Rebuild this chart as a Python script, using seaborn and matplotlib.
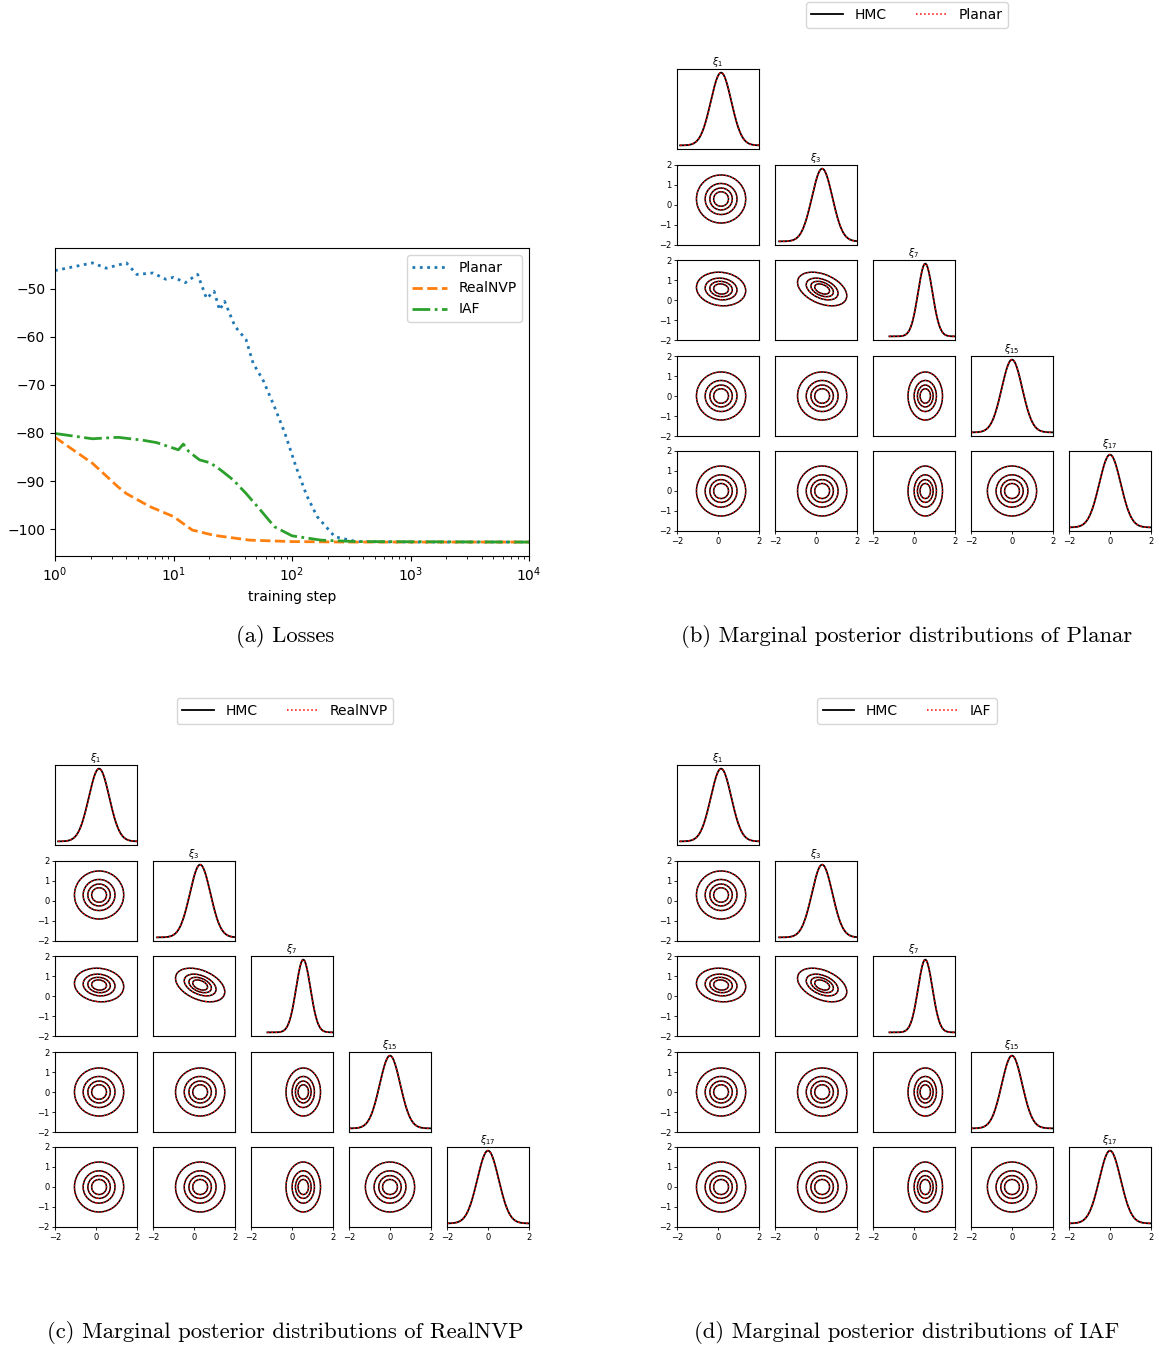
"""
Flow losses and corner plots of marginal posteriors (HMC vs flows).
"""
import numpy as np
import matplotlib
matplotlib.use("Agg")
import matplotlib.pyplot as plt
from matplotlib.lines import Line2D
import seaborn as sns

W, H = 1154, 1346

# ---- losses ----
planar_step = [1, 2.07, 2.7, 4, 4.9, 6.7, 8.6, 10, 12.6, 15, 16, 19, 22, 24.5, 27,
               33, 41, 47, 57, 71, 87, 108, 133, 163, 230, 350, 1000, 10000]
planar_loss = [-46.2, -44.6, -45.7, -44.6, -47.0, -46.7, -48.0, -47.6, -48.7, -47.4,
               -47.0, -52.0, -50.5, -54.4, -52.6, -57.8, -60.6, -65.5, -69.0, -74.5,
               -80.0, -87.0, -93.0, -97.4, -101.6, -102.6, -102.7, -102.7]

realnvp_step = [1, 2.07, 3.4, 4, 6.3, 10, 14.4, 22, 44, 100, 300, 10000]
realnvp_loss = [-80.9, -86.3, -91.2, -92.6, -95.3, -97.4, -100.2, -101.3, -102.3,
                -102.6, -102.7, -102.7]

iaf_step = [1, 2.07, 3.4, 5.5, 7.2, 11, 12.1, 13.5, 16.6, 20.4, 25, 32, 41, 54, 71,
            100, 176, 350, 10000]
iaf_loss = [-80.1, -81.2, -80.9, -81.5, -82.0, -83.5, -82.3, -83.9, -85.6, -86.2,
            -87.7, -89.8, -92.6, -96.0, -99.5, -101.4, -102.3, -102.6, -102.7]

# ---- marginal posterior summary ----
var_labels = [r'$\xi_1$', r'$\xi_3$', r'$\xi_7$', r'$\xi_{15}$', r'$\xi_{17}$']
var_mean = [0.15, 0.3, 0.55, 0.0, 0.0]
var_std = [0.5, 0.5, 0.35, 0.5, 0.52]
var_xmin = [-1.85, -1.8, -1.2, -1.97, -1.97]
var_corr = [[1.0],
            [0.0, 1.0],
            [-0.1, -0.4, 1.0],
            [0.0, 0.0, 0.0, 1.0],
            [0.0, 0.0, 0.0, 0.0, 1.0]]
contour_levels = [0.056, 0.30, 0.55, 0.77]  # fraction of peak density
flow_names = ['Planar', 'RealNVP', 'IAF']


def px_axes(fig, x0, y0, w, h):
    return fig.add_axes([x0 / W, 1 - (y0 + h) / H, w / W, h / H])


def gauss_pdf(x, mu, sd):
    return np.exp(-0.5 * ((x - mu) / sd) ** 2) / (sd * np.sqrt(2 * np.pi))


def draw_corner(fig, x_lefts, y_tops, flow, legend_xy):
    n = len(var_labels)
    for i in range(n):
        for j in range(i + 1):
            ax = px_axes(fig, x_lefts[j], y_tops[i], 82, 80)
            if i == j:
                grid = np.linspace(var_xmin[i], 2, 200)
                dens = gauss_pdf(grid, var_mean[i], var_std[i])
                sns.lineplot(x=grid, y=dens, color='k', linewidth=1.3, ax=ax)
                sns.lineplot(x=grid, y=dens, color='red', linestyle=':', linewidth=1.1, ax=ax)
                ax.set_title(var_labels[i], fontsize=7, pad=2)
                ax.set_yticks([])
                ax.set_ylabel('')
            else:
                g = np.linspace(-2, 2, 240)
                X, Y = np.meshgrid(g, g)
                sx, sy = var_std[j], var_std[i]
                r = var_corr[i][j]
                dx = (X - var_mean[j]) / sx
                dy = (Y - var_mean[i]) / sy
                Z = np.exp(-(dx ** 2 - 2 * r * dx * dy + dy ** 2) / (2 * (1 - r ** 2)))
                ax.contour(X, Y, Z, levels=contour_levels, colors='k', linewidths=1.1)
                ax.contour(X, Y, Z, levels=contour_levels, colors='red',
                           linewidths=0.9, linestyles=':')
                ax.set_ylim(-2, 2)
                if j == 0:
                    ax.set_yticks([-2, -1, 0, 1, 2])
                else:
                    ax.set_yticks([])
            ax.set_xlim(-2, 2)
            if i == n - 1:
                ax.set_xticks([-2, 0, 2])
            else:
                ax.set_xticks([])
            ax.tick_params(labelsize=6, length=2.5, width=0.6, pad=1.5)
    handles = [Line2D([], [], color='k', linewidth=1.3),
               Line2D([], [], color='red', linestyle=':', linewidth=1.1)]
    fig.legend(handles, ['HMC', flow], loc='center',
               bbox_to_anchor=(legend_xy[0] / W, 1 - legend_xy[1] / H),
               ncol=2, fontsize=10, handlelength=2.3, columnspacing=2.1)


fig = plt.figure(figsize=(W / 100, H / 100), dpi=100)

# (a) losses
ax = px_axes(fig, 55, 248, 474, 308)
sns.lineplot(x=planar_step, y=planar_loss, color='tab:blue', linestyle=':',
             linewidth=2, label='Planar', ax=ax)
sns.lineplot(x=realnvp_step, y=realnvp_loss, color='tab:orange', linestyle='--',
             linewidth=2, label='RealNVP', ax=ax)
sns.lineplot(x=iaf_step, y=iaf_loss, color='tab:green', linestyle='-.',
             linewidth=2, label='IAF', ax=ax)
ax.set_xscale('log')
ax.set_xlim(1, 1e4)
ax.set_ylim(-105.6, -41.5)
ax.set_yticks([-50, -60, -70, -80, -90, -100])
ax.set_xlabel('training step', fontsize=10)
ax.tick_params(labelsize=10)
ax.legend(loc='upper right', fontsize=10, handlelength=2.5)

# corner plots
cols_right = [677, 775, 873, 971, 1069]
cols_left = [55, 153, 251, 349, 447]
rows_top = [69, 165, 260, 356, 451]
rows_bottom = [y + 696 for y in rows_top]

draw_corner(fig, cols_right, rows_top, flow_names[0], (907, 15))
draw_corner(fig, cols_left, rows_bottom, flow_names[1], (285, 711))
draw_corner(fig, cols_right, rows_bottom, flow_names[2], (907, 711))

# captions
cap_kw = dict(ha='center', va='center', fontsize=16.3, family='cmr10')
fig.text(285 / W, 1 - 636 / H, '(a) Losses', **cap_kw)
fig.text(907 / W, 1 - 636 / H, '(b) Marginal posterior distributions of Planar', **cap_kw)
fig.text(285 / W, 1 - 1332 / H, '(c) Marginal posterior distributions of RealNVP', **cap_kw)
fig.text(907 / W, 1 - 1332 / H, '(d) Marginal posterior distributions of IAF', **cap_kw)

fig.savefig('out.png', dpi=100)
plt.close(fig)
